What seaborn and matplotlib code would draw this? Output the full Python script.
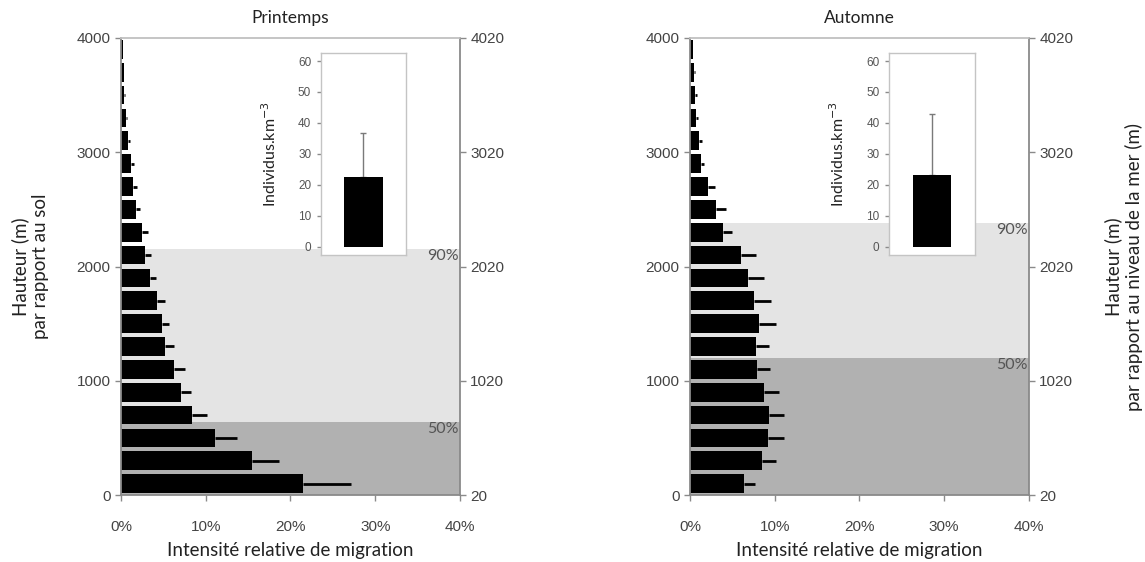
import pandas as pd
import seaborn as sns
import matplotlib.pyplot as plt
from matplotlib.ticker import PercentFormatter

# CLASSES DE HAUTEUR (centre de classe, m par rapport au sol)
hauteurs = [100, 300, 500, 700, 900, 1100, 1300, 1500, 1700, 1900,
            2100, 2300, 2500, 2700, 2900, 3100, 3300, 3500, 3700, 3900]

# INTENSITE RELATIVE (%) ET BORNE HAUTE DE L'ERREUR
printemps = [21.5, 15.5, 11.1, 8.4, 7.1, 6.2, 5.2, 4.85, 4.26, 3.4,
             2.84, 2.5, 1.75, 1.45, 1.15, 0.8, 0.6, 0.35, 0.3, 0.2]
printemps_haut = [27.2, 18.7, 13.7, 10.2, 8.3, 7.6, 6.3, 5.7, 5.2, 4.1,
                  3.5, 3.2, 2.2, 1.9, 1.5, 1.1, 0.75, 0.45, 0.35, 0.25]
automne = [6.4, 8.5, 9.25, 9.3, 8.7, 7.9, 7.8, 8.2, 7.6, 6.8,
           6.0, 3.9, 3.1, 2.1, 1.25, 1.05, 0.7, 0.55, 0.5, 0.3]
automne_haut = [7.7, 10.2, 11.1, 11.1, 10.5, 9.4, 9.3, 10.2, 9.6, 8.7,
                7.8, 5.0, 4.25, 2.9, 1.7, 1.4, 1.0, 0.8, 0.6, 0.35]

# HAUTEURS CONTENANT 50% ET 90% DES OISEAUX
seuils_printemps = {'50%': 641, '90%': 2153}
seuils_automne = {'50%': 1202, '90%': 2383}

# DENSITE MOYENNE (individus / km3) ET BORNE HAUTE
densite = {'Printemps': (22.5, 36.6), 'Automne': (23.1, 43.0)}

saisons = ['Printemps', 'Automne']
valeurs = {'Printemps': (printemps, printemps_haut, seuils_printemps),
           'Automne': (automne, automne_haut, seuils_automne)}

texte = ['Lato', 'DejaVu Sans']
chiffres = ['Liberation Sans', 'DejaVu Sans']
gris_axe = '#8a8a8a'
gris_txt = '#444444'

sns.set_theme(style='white')
plt.rcParams['font.family'] = chiffres

fig = plt.figure(figsize=(11.45, 5.62), dpi=100)

positions = {'Printemps': [0.1057, 0.1192, 0.2960, 0.8132],
             'Automne': [0.6026, 0.1192, 0.2960, 0.8132]}
pos_inset = {'Printemps': [0.2803, 0.5463, 0.0742, 0.3589],
             'Automne': [0.7767, 0.5463, 0.0749, 0.3589]}

for saison in saisons:
    vals, hauts, seuils = valeurs[saison]
    df = pd.DataFrame({'HAUTEUR': hauteurs,
                       'INTENSITE': [v / 100 for v in vals],
                       'HAUT': [h / 100 for h in hauts]})

    ax = fig.add_axes(positions[saison])
    ax.axhspan(0, seuils['90%'], color='#e4e4e4', lw=0, zorder=0)
    ax.axhspan(0, seuils['50%'], color='#b1b1b1', lw=0, zorder=0)

    sns.barplot(data=df, x='INTENSITE', y='HAUTEUR', orient='h', native_scale=True,
                color='black', saturation=1, width=0.82, errorbar=None,
                edgecolor='none', ax=ax, zorder=2)
    ax.errorbar(df['INTENSITE'], df['HAUTEUR'],
                xerr=[[0] * len(df), df['HAUT'] - df['INTENSITE']],
                fmt='none', ecolor='black', elinewidth=2, capsize=0, zorder=3)

    ax.set_xlim(0, 0.40)
    ax.set_ylim(0, 4000)
    ax.set_xticks([0, 0.1, 0.2, 0.3, 0.4])
    ax.xaxis.set_major_formatter(PercentFormatter(1, decimals=0))
    ax.set_yticks([0, 1000, 2000, 3000, 4000])
    ax.tick_params(axis='both', direction='out', length=4, width=1, color=gris_axe,
                   labelcolor=gris_txt, labelsize=11, bottom=True, left=True)
    ax.tick_params(axis='x', pad=14)
    for s in ax.spines.values():
        s.set_color(gris_axe)
        s.set_linewidth(1.3)
    ax.spines['top'].set_color('#c0c0c0')
    ax.set_xlabel('Intensité relative de migration', family=texte, fontsize=13.5,
                  color='#222222', labelpad=6)
    ax.set_ylabel('')
    ax.set_title(saison, family=texte, fontsize=12.5, color='#222222', pad=11)

    for nom, h in seuils.items():
        ax.text(0.399, h, nom, ha='right', va='top', family=texte, fontsize=11.5,
                color='#555555', zorder=4)

    # axe droit : hauteur par rapport au niveau de la mer (+20 m)
    ax2 = ax.twinx()
    ax2.set_ylim(20, 4020)
    ax2.set_yticks([20, 1020, 2020, 3020, 4020])
    ax2.tick_params(axis='y', direction='out', length=4, width=1, color=gris_axe,
                    labelcolor=gris_txt, labelsize=11, right=True)
    for s in ax2.spines.values():
        s.set_visible(False)
    ax2.grid(False)

    if saison == 'Printemps':
        ax.set_ylabel('Hauteur (m)\npar rapport au sol', family=texte, fontsize=13.5,
                      color='#222222', labelpad=20)
    else:
        ax2.set_ylabel('Hauteur (m)\npar rapport au niveau de la mer (m)', family=texte,
                       fontsize=13.5, color='#222222', labelpad=22)

    # encart densite
    moy, haut = densite[saison]
    dens = pd.DataFrame({'SAISON': [saison], 'DENSITE': [moy]})
    axi = fig.add_axes(pos_inset[saison])
    axi.set_facecolor('white')
    sns.barplot(data=dens, x='SAISON', y='DENSITE', color='black', saturation=1,
                width=0.45, errorbar=None, edgecolor='none', ax=axi, zorder=2)
    axi.errorbar([0], [moy], yerr=[[0], [haut - moy]], fmt='none', ecolor='#7a7a7a',
                 elinewidth=1, capsize=2, capthick=1, zorder=1)
    axi.set_ylim(-2.7, 62.5)
    axi.set_xlim(-0.5, 0.5)
    axi.set_yticks([0, 10, 20, 30, 40, 50, 60])
    axi.set_xticks([])
    axi.set_xlabel('')
    axi.tick_params(axis='y', direction='out', length=3, width=1, color=gris_axe,
                    labelcolor='#555555', labelsize=8.5, left=True, pad=4)
    for s in axi.spines.values():
        s.set_color('#c4c4c4')
        s.set_linewidth(1)
    axi.set_ylabel('Individus.km$^{-3}$', family=texte, fontsize=11.5,
                   color='#222222', labelpad=14)

plt.savefig('out.png', dpi=100)
